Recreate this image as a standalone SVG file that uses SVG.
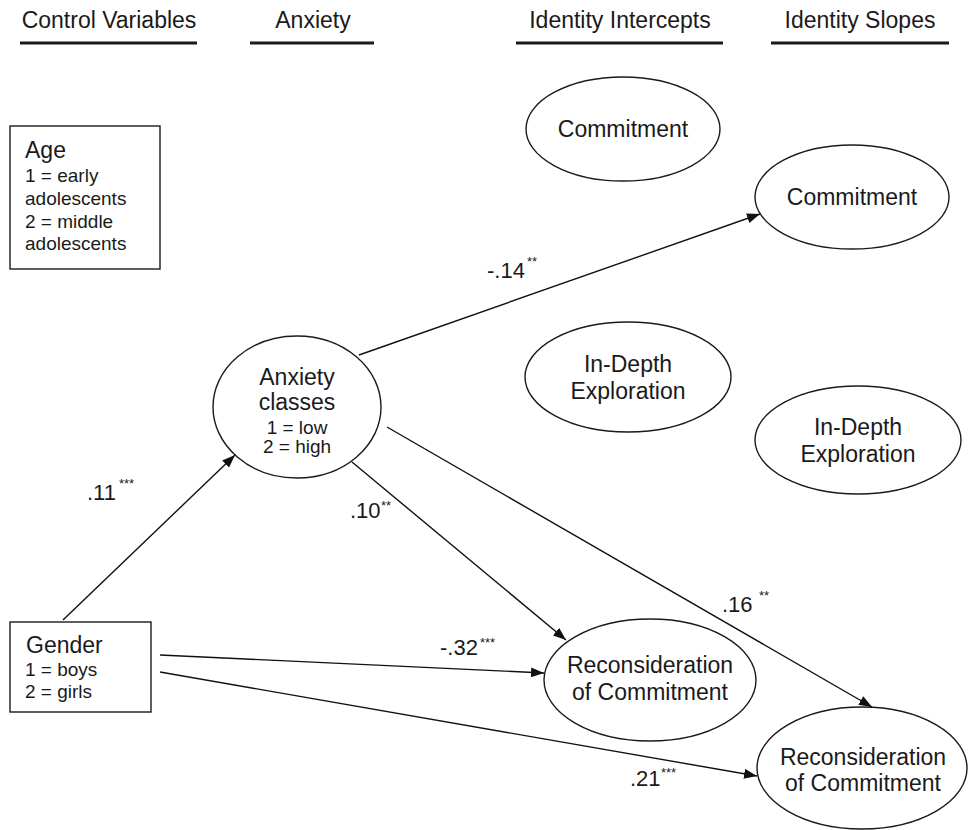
<svg xmlns="http://www.w3.org/2000/svg" width="968" height="830" viewBox="0 0 968 830">
<defs>
<marker id="arr" viewBox="0 0 13 10" refX="13" refY="5" markerWidth="13" markerHeight="10" markerUnits="userSpaceOnUse" orient="auto">
<path d="M0,0 L13,5 L0,10 Z" fill="#111"/>
</marker>
<style>
text{font-family:"Liberation Sans",Arial,Helvetica,sans-serif;fill:#1a1a1a}
.h{font-size:23px;text-anchor:middle}
.t{font-size:23px}
.l{font-size:22px}
.s{font-size:19px}
.sup{font-size:13px}
.c{text-anchor:middle}
.ul{stroke:#1a1a1a;stroke-width:3}
.n{fill:#fff;stroke:#1a1a1a;stroke-width:1.4}
.e{fill:none;stroke:#111;stroke-width:1.4;marker-end:url(#arr)}
</style>
</defs>
<rect width="968" height="830" fill="#fff"/>
<g id="headers">
<text class="h" x="109" y="28">Control Variables</text>
<line class="ul" x1="20" y1="43" x2="197" y2="43"/>
<text class="h" x="313" y="28">Anxiety</text>
<line class="ul" x1="250" y1="43" x2="374" y2="43"/>
<text class="h" x="620" y="28">Identity Intercepts</text>
<line class="ul" x1="516" y1="43" x2="723" y2="43"/>
<text class="h" x="860" y="28">Identity Slopes</text>
<line class="ul" x1="771" y1="43" x2="949" y2="43"/>
</g>
<g id="age">
<rect class="n" x="10" y="126" width="150" height="143"/>
<text class="t" x="25" y="158">Age</text>
<text class="s" x="25" y="182">1 = early</text>
<text class="s" x="25" y="205">adolescents</text>
<text class="s" x="25" y="228">2 = middle</text>
<text class="s" x="25" y="250">adolescents</text>
</g>
<g id="gender">
<rect class="n" x="10" y="622" width="141" height="90"/>
<text class="t" x="26" y="653">Gender</text>
<text class="s" x="25" y="676">1 = boys</text>
<text class="s" x="25" y="698">2 = girls</text>
</g>
<g id="anxiety">
<ellipse class="n" cx="297" cy="407" rx="84" ry="71"/>
<text class="t c" x="297" y="385">Anxiety</text>
<text class="t c" x="297" y="410">classes</text>
<text class="s c" x="297" y="434">1 = low</text>
<text class="s c" x="297" y="453">2 = high</text>
</g>
<g id="commitment-intercept">
<ellipse class="n" cx="623" cy="129" rx="97" ry="52"/>
<text class="t c" x="623" y="137">Commitment</text>
</g>
<g id="commitment-slope">
<ellipse class="n" cx="852" cy="197" rx="97" ry="52"/>
<text class="t c" x="852" y="205">Commitment</text>
</g>
<g id="exploration-intercept">
<ellipse class="n" cx="628" cy="377" rx="103" ry="55"/>
<text class="t c" x="628" y="372">In-Depth</text>
<text class="t c" x="628" y="399">Exploration</text>
</g>
<g id="exploration-slope">
<ellipse class="n" cx="858" cy="440" rx="103" ry="54"/>
<text class="t c" x="858" y="435">In-Depth</text>
<text class="t c" x="858" y="462">Exploration</text>
</g>
<g id="reconsideration-intercept">
<ellipse class="n" cx="650" cy="680" rx="106" ry="61"/>
<text class="t c" x="650" y="673">Reconsideration</text>
<text class="t c" x="650" y="700">of Commitment</text>
</g>
<g id="reconsideration-slope">
<ellipse class="n" cx="862" cy="768" rx="105" ry="61"/>
<text class="t c" x="863" y="765">Reconsideration</text>
<text class="t c" x="863" y="791">of Commitment</text>
</g>
<g id="connectors">
<line class="e" x1="63" y1="620" x2="235" y2="455"/>
<line class="e" x1="359" y1="355" x2="760" y2="214"/>
<line class="e" x1="352" y1="462" x2="566" y2="640"/>
<line class="e" x1="387" y1="427" x2="872" y2="707"/>
<line class="e" x1="160" y1="655" x2="544" y2="673"/>
<line class="e" x1="160" y1="672" x2="757" y2="776"/>
</g>
<g id="labels">
<text class="l" x="87" y="500">.11</text><text class="sup" x="119" y="488">***</text>
<text class="l" x="487" y="278">-.14</text><text class="sup" x="527" y="266">**</text>
<text class="l" x="350" y="518">.10</text><text class="sup" x="381" y="510">**</text>
<text class="l" x="722" y="612">.16</text><text class="sup" x="759" y="600">**</text>
<text class="l" x="440" y="655">-.32</text><text class="sup" x="480" y="647">***</text>
<text class="l" x="630" y="786">.21</text><text class="sup" x="661" y="777">***</text>
</g>
</svg>
